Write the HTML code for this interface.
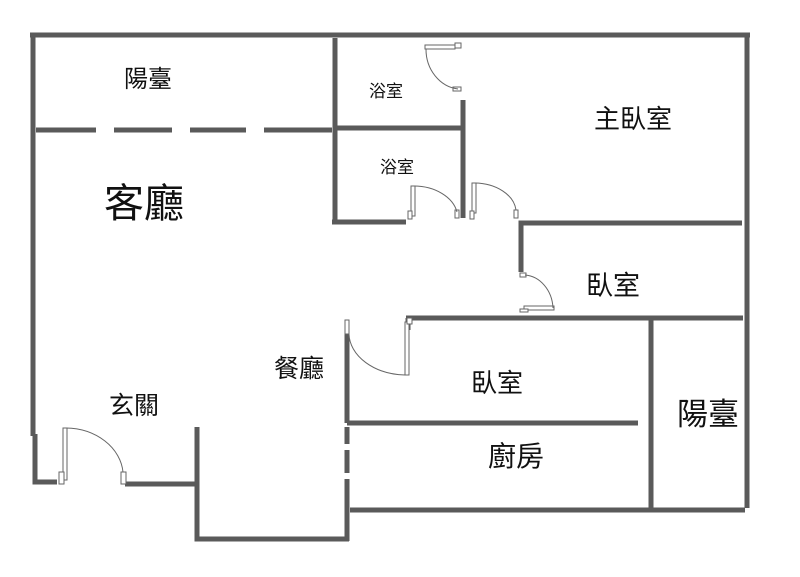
<!DOCTYPE html>
<html><head><meta charset="utf-8"><style>
html,body{margin:0;padding:0;background:#fff;width:800px;height:577px;overflow:hidden}
text{font-family:"Liberation Sans","Noto Sans CJK TC",sans-serif;fill:#111}
</style></head><body>
<svg width="800" height="577" viewBox="0 0 800 577" xmlns="http://www.w3.org/2000/svg">
<g stroke="#5a5a5a" stroke-width="5" fill="none" stroke-linecap="butt">
<line x1="30" y1="35" x2="750" y2="35"/>
<line x1="33" y1="33" x2="33" y2="436"/>
<polyline points="35,434 35,482 57,482"/>
<line x1="747" y1="33" x2="747" y2="508"/>
<line x1="36" y1="130" x2="96" y2="130"/>
<line x1="114" y1="130" x2="172" y2="130"/>
<line x1="190" y1="130" x2="246" y2="130"/>
<line x1="264" y1="130" x2="332" y2="130"/>
<line x1="335" y1="38" x2="335" y2="224"/>
<line x1="332" y1="222" x2="406" y2="222"/>
<line x1="335" y1="128" x2="464" y2="128"/>
<line x1="463" y1="100" x2="463" y2="218"/>
<polyline points="742,223 521,223 521,272"/>
<line x1="406" y1="318" x2="743" y2="318"/>
<line x1="408" y1="318" x2="408" y2="330"/>
<line x1="651" y1="320" x2="651" y2="510"/>
<line x1="347" y1="320" x2="347" y2="423"/>
<line x1="347" y1="427" x2="347" y2="444"/>
<line x1="347" y1="450" x2="347" y2="473"/>
<line x1="347" y1="479" x2="347" y2="541"/>
<line x1="347" y1="423" x2="638" y2="423"/>
<line x1="350" y1="510" x2="745" y2="510"/>
<line x1="125" y1="484" x2="199" y2="484"/>
<polyline points="197,427 197,539 349,539"/>
</g>
<g stroke="#666" stroke-width="1" fill="#fff">
<rect x="425" y="45" width="30" height="4"/><rect x="455" y="43" width="6" height="5"/>
<rect x="453" y="87" width="8" height="4"/>
<path d="M426,49 A36,40 0 0 0 458,89" fill="none"/>
<rect x="411" y="186" width="4" height="30"/><rect x="408" y="211" width="4" height="8"/>
<rect x="455" y="210" width="4" height="8"/>
<path d="M414,186 A44,32 0 0 1 457,212" fill="none"/>
<rect x="472" y="183" width="4" height="30"/><rect x="470" y="211" width="4" height="8"/>
<rect x="514" y="210" width="4" height="8"/>
<path d="M475,183 A42,30 0 0 1 516,210" fill="none"/>
<rect x="520" y="273" width="6" height="4"/>
<rect x="524" y="306" width="30" height="4"/><rect x="520" y="309" width="8" height="3"/>
<path d="M525,275 A30,35 0 0 1 553,308" fill="none"/>
<rect x="345" y="320" width="4" height="14"/>
<rect x="405" y="322" width="4" height="53"/><rect x="407" y="318" width="5" height="6"/>
<path d="M349,334 A58,42 0 0 0 405,375" fill="none"/>
<rect x="63" y="428" width="4" height="52"/><rect x="59" y="472" width="5" height="12"/>
<rect x="121" y="472" width="5" height="12"/>
<path d="M66,428 A58,48 0 0 1 123,472" fill="none"/>
</g>
<text x="148" y="87" font-size="24" text-anchor="middle">陽臺</text>
<text x="386" y="97" font-size="17" text-anchor="middle">浴室</text>
<text x="397" y="173" font-size="17" text-anchor="middle">浴室</text>
<text x="633" y="128" font-size="26" text-anchor="middle">主臥室</text>
<text x="144" y="217" font-size="40" text-anchor="middle">客廳</text>
<text x="613" y="295" font-size="27" text-anchor="middle">臥室</text>
<text x="299" y="377" font-size="25" text-anchor="middle">餐廳</text>
<text x="497" y="392" font-size="26" text-anchor="middle">臥室</text>
<text x="134" y="414" font-size="25" text-anchor="middle">玄關</text>
<text x="708" y="425" font-size="31" text-anchor="middle">陽臺</text>
<text x="516" y="466" font-size="28" text-anchor="middle">廚房</text>
</svg>
</body></html>
